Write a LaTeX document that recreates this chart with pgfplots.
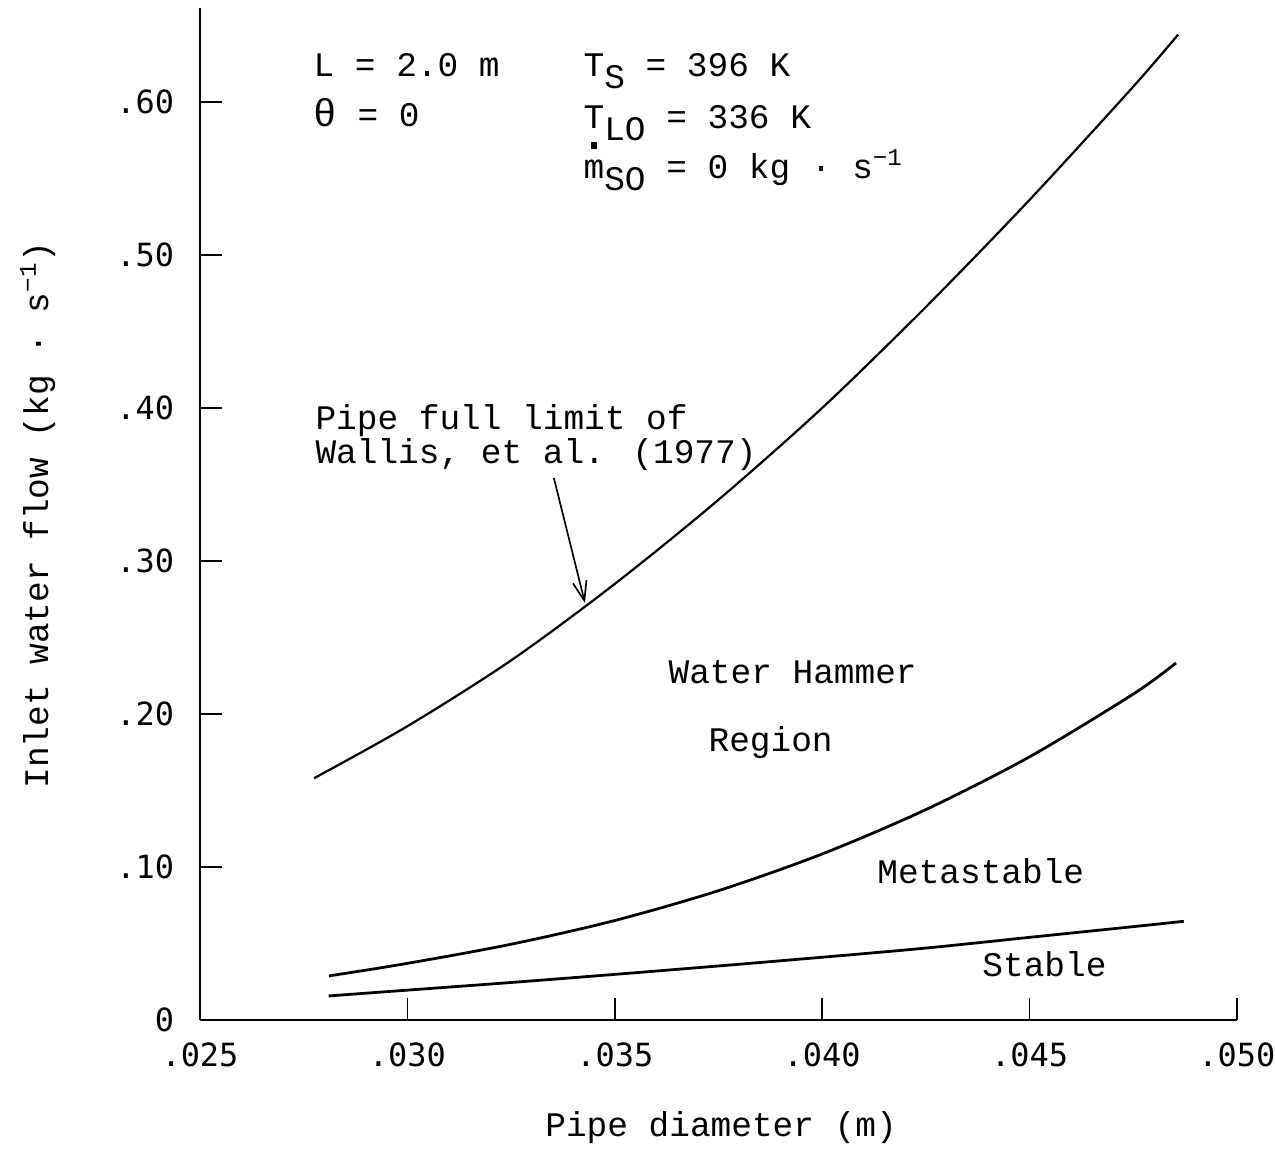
\documentclass[border=0pt]{standalone}
\usepackage{fontspec}
\setmainfont{Liberation Mono}
\newfontfamily\tickfont{DejaVu Sans Mono}
\usepackage{pgfplots}
\pgfplotsset{compat=1.18}
\usetikzlibrary{arrows.meta}
\newcommand{\sub}[1]{\raisebox{-4.6pt}{#1}}
\begin{document}
\fontsize{12.4}{15}\selectfont
\begin{tikzpicture}
\begin{axis}[
  at={(0,0)}, anchor=south west,
  scale only axis, width=373.3pt, height=364.3pt,
  xmin=0.025, xmax=0.050, ymin=0, ymax=0.6614,
  axis x line*=bottom, axis y line*=left,
  axis line style={line width=1pt},
  xtick={0.025,0.030,0.035,0.040,0.045,0.050},
  xticklabels={.025,.030,.035,.040,.045,.050},
  ytick={0,0.1,0.2,0.3,0.4,0.5,0.6},
  yticklabels={{\raisebox{-1.8pt}{0}\hspace{5.8pt}},.10,.20,.30,.40,.50,.60},
  scaled x ticks=false, scaled y ticks=false,
  tick align=inside,
  major tick length=8pt,
  tick style={line width=0.6pt, black},
  ticklabel style={font=\tickfont\fontsize{11.5}{13}\selectfont},
  xticklabel style={yshift=-4pt},
  yticklabel style={xshift=-5pt},
  clip=false,
]
% pipe full limit (Wallis et al. 1977)
\addplot[black, line width=0.8pt, smooth] coordinates {
  (0.02775,0.158) (0.0300,0.192) (0.0325,0.235) (0.0350,0.285)
  (0.0375,0.340) (0.0400,0.400) (0.0425,0.466) (0.0450,0.536)
  (0.0475,0.610) (0.04858,0.644)};
% water hammer / metastable boundary
\addplot[black, line width=1pt, smooth] coordinates {
  (0.02811,0.0288) (0.0300,0.0370) (0.0325,0.0495) (0.0350,0.0650)
  (0.0375,0.0845) (0.0400,0.1085) (0.0425,0.1375) (0.0450,0.1720)
  (0.0475,0.2130) (0.04853,0.2333)};
% metastable / stable boundary
\addplot[black, line width=1pt, smooth] coordinates {
  (0.0281,0.0157) (0.0300,0.0195) (0.0325,0.0245) (0.0350,0.0298)
  (0.0375,0.0353) (0.0400,0.0410) (0.0425,0.0470) (0.0450,0.0540)
  (0.0475,0.0610) (0.04872,0.0645)};
\end{axis}
% annotations
\node[anchor=base west, inner sep=0pt] at (40.7pt,339.5pt) {L = 2.0 m};
\node[anchor=base west, inner sep=0pt] at (40.7pt,321.5pt) {\fontsize{14}{15}\selectfont θ\fontsize{12.4}{15}\selectfont{} = 0};
\node[anchor=base west, inner sep=0pt] at (137.9pt,339.8pt) {T\sub{S} = 396 K};
\node[anchor=base west, inner sep=0pt] at (137.9pt,321.1pt) {T\sub{LO} = 336 K};
\node[anchor=base west, inner sep=0pt] at (137.9pt,303.1pt) {\makebox[0pt][l]{\hspace{2.7pt}\raisebox{10.6pt}{\rule{2.2pt}{2.2pt}}}m\sub{SO} = 0 kg · s\textsuperscript{−1}};
\node[anchor=base west, inner sep=0pt] at (41.4pt,212.4pt) {Pipe full limit of};
\node[anchor=base west, inner sep=0pt] at (41.4pt,200.5pt) {Wallis, et al. (1977)};
\draw[line width=0.6pt, -{Straight Barb[length=7pt,width=5pt]}] (127.4pt,195.1pt) -- (138.6pt,150.1pt);
\node[anchor=base west, inner sep=0pt] at (168.5pt,121.3pt) {Water Hammer};
\node[anchor=base west, inner sep=0pt] at (182.9pt,96.8pt) {Region};
\node[anchor=base west, inner sep=0pt] at (243.7pt,49.0pt) {Metastable};
\node[anchor=base west, inner sep=0pt] at (281.5pt,15.8pt) {Stable};
\node[anchor=base, inner sep=0pt] at (187.6pt,-42.1pt) {Pipe diameter (m)};
\node[anchor=base, inner sep=0pt, rotate=90] at (-54.7pt,181.8pt) {Inlet water flow (kg · s\textsuperscript{−1})};
\pgfresetboundingbox
\path[use as bounding box] (-72pt,-46.44pt) rectangle (387pt,367.2pt);
\end{tikzpicture}
\end{document}
